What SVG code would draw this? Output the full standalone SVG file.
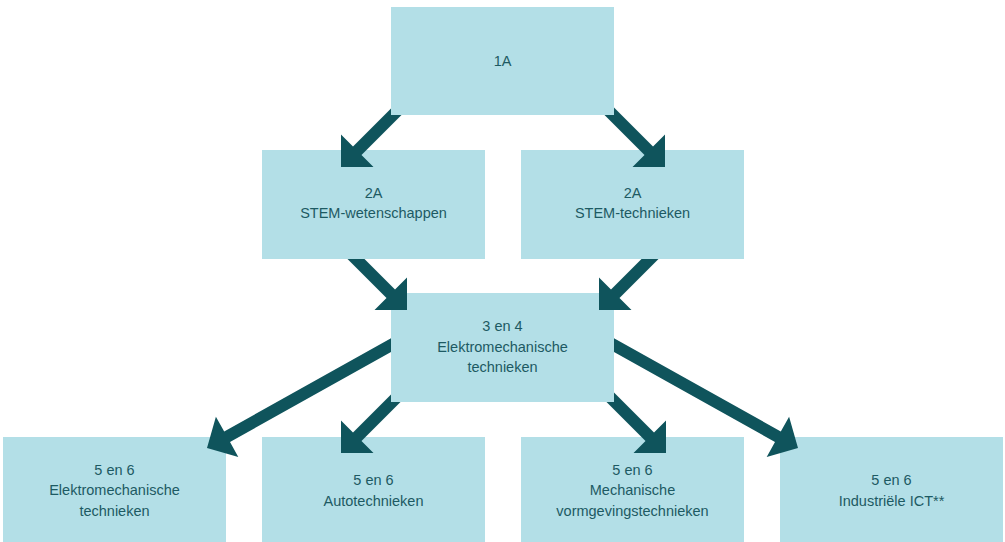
<svg xmlns="http://www.w3.org/2000/svg" width="1005" height="542" viewBox="0 0 1005 542">
  <style>
    .box { fill: #b3dfe7; }
    .arrow { fill: #0f545c; }
    .label { font-family: "Liberation Sans", Arial, sans-serif; font-size: 14.5px; fill: #1d5a63; text-anchor: middle; }
  </style>
  <rect width="1005" height="542" fill="#ffffff"/>
  <g id="n1A">
    <rect class="box" x="391" y="7" width="223" height="108"/>
    <text class="label" x="502.5" y="66">1A</text>
  </g>
  <g id="n2A-wetenschappen">
    <rect class="box" x="262" y="150" width="223" height="109"/>
    <text class="label" x="373.5" y="198">2A</text>
    <text class="label" x="373.5" y="218">STEM-wetenschappen</text>
  </g>
  <g id="n2A-technieken">
    <rect class="box" x="521" y="150" width="223" height="109"/>
    <text class="label" x="632.5" y="198">2A</text>
    <text class="label" x="632.5" y="218">STEM-technieken</text>
  </g>
  <g id="n34">
    <rect class="box" x="391" y="293" width="223" height="109"/>
    <text class="label" x="502.5" y="331">3 en 4</text>
    <text class="label" x="502.5" y="352">Elektromechanische</text>
    <text class="label" x="502.5" y="372">technieken</text>
  </g>
  <g id="n56-elektromechanische">
    <rect class="box" x="3" y="437" width="223" height="110"/>
    <text class="label" x="114.5" y="475">5 en 6</text>
    <text class="label" x="114.5" y="495">Elektromechanische</text>
    <text class="label" x="114.5" y="516">technieken</text>
  </g>
  <g id="n56-auto">
    <rect class="box" x="262" y="437" width="223" height="110"/>
    <text class="label" x="373.5" y="485">5 en 6</text>
    <text class="label" x="373.5" y="506">Autotechnieken</text>
  </g>
  <g id="n56-mechanische">
    <rect class="box" x="521" y="437" width="223" height="110"/>
    <text class="label" x="632.5" y="475">5 en 6</text>
    <text class="label" x="632.5" y="495">Mechanische</text>
    <text class="label" x="632.5" y="516">vormgevingstechnieken</text>
  </g>
  <g id="n56-ict">
    <rect class="box" x="780" y="437" width="223" height="110"/>
    <text class="label" x="891.5" y="485">5 en 6</text>
    <text class="label" x="891.5" y="506">Industriële ICT**</text>
  </g>
  <g id="connectors">
    <polygon class="arrow" points="391,108.5 353,146.5 341,134.5 341,167 373.5,167 361.5,155 401.5,115 391,115"/>
    <polygon class="arrow" points="614,107.5 653,146.5 665,134.5 665,167 632.5,167 644.5,155 604.5,115 614,115"/>
    <polygon class="arrow" points="347.5,259 386.5,298 374.5,310 407,310 407,277.5 395,289.5 364.5,259"/>
    <polygon class="arrow" points="658.5,259 619.5,298 631.5,310 599,310 599,277.5 611,289.5 641.5,259"/>
    <polygon class="arrow" points="391,338.3 224.2,431.5 215.9,416.7 207,448 238.3,456.9 230,442 391,352"/>
    <polygon class="arrow" points="614,338.3 780.8,431.5 789.1,416.7 798,448 766.7,456.9 775,442 614,352"/>
    <polygon class="arrow" points="391,394.5 353,432.5 341,420.5 341,453 373.5,453 361.5,441 400.5,402 391,402"/>
    <polygon class="arrow" points="606.5,402 645.5,441 633.5,453 666,453 666,420.5 654,432.5 614,392.5 614,402"/>
  </g>
</svg>
